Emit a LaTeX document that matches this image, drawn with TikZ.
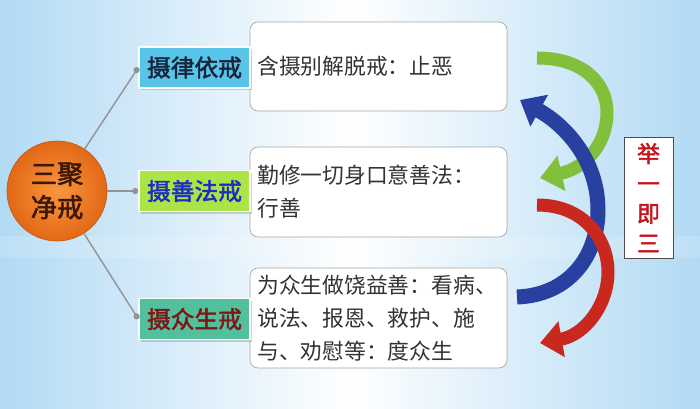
\documentclass[tikz,border=0pt]{standalone}
\usepackage{fontspec}
\newfontfamily\cjk{Noto Sans CJK SC}
\newfontfamily\cjkb[FakeBold=2]{Noto Sans CJK SC}
\usetikzlibrary{arrows.meta,shadows}
\definecolor{bgblue}{RGB}{178,218,244}
\definecolor{lyfill}{RGB}{88,196,232}
\definecolor{sffill}{RGB}{172,228,72}
\definecolor{zsfill}{RGB}{82,192,156}
\definecolor{lytext}{RGB}{22,36,60}
\definecolor{sftext}{RGB}{28,44,196}
\definecolor{zstext}{RGB}{128,22,22}
\definecolor{garrow}{RGB}{130,192,60}
\definecolor{barrow}{RGB}{40,64,160}
\definecolor{rarrow}{RGB}{200,40,30}
\begin{document}
\begin{tikzpicture}[x=0.02cm, y=-0.02cm, line join=round,
    lab/.style={minimum width=2.22cm, minimum height=0.82cm, draw=white, line width=0.8pt,
        drop shadow={shadow xshift=1.2pt, shadow yshift=-1.2pt, opacity=.35},
        font=\cjkb\fontsize{13.5}{16}\selectfont},
    txt/.style={draw=gray!70, fill=white, rounded corners=0.16cm, text width=4.85cm,
        inner xsep=0.145cm, align=left, text=black!80,
        font=\cjk\fontsize{12.4}{18.8}\selectfont},
    conn/.style={draw=gray!85, line width=0.8pt, -{Circle[length=3.5pt]}},
    band/.style={line width=0.26cm, line cap=butt, -{Triangle[width=0.7cm, length=0.44cm]}}]
    \useasboundingbox (0,0) rectangle (700,409);
    \fill[left color=bgblue, right color=bgblue, middle color=white] (0,0) rectangle (700,409);
    \fill[white, opacity=.15] (0,236) rectangle (700,258);
    % center
    \node[circle, minimum size=2cm, shading=radial, inner color={rgb,255:red,250;green,150;blue,64},
        outer color={rgb,255:red,226;green,104;blue,22}, draw={rgb,255:red,200;green,90;blue,20},
        align=center, text={rgb,255:red,60;green,24;blue,6},
        font=\cjkb\fontsize{15}{19}\selectfont] (sjjj) at (57,191) {三聚\\净戒};
    % text boxes
    \node[txt, minimum height=1.78cm] (lyt) at (378.5,66.5) {含摄别解脱戒：止恶};
    \node[txt, minimum height=1.8cm] (sft) at (378.5,192) {勤修一切身口意善法：\\行善};
    \node[txt, minimum height=2cm] (zst) at (378.5,318) {为众生做饶益善：看病、\\说法、报恩、救护、施\\与、劝慰等：度众生};
    % labels
    \node[lab, fill=lyfill, text=lytext] (ly) at (194.5,67.5) {摄律依戒};
    \node[lab, fill=sffill, text=sftext] (sf) at (194.5,191) {摄善法戒};
    \node[lab, fill=zsfill, text=zstext] (zs) at (194.5,319) {摄众生戒};
    \draw[conn] (sjjj) -- (ly.west);
    \draw[conn] (sjjj) -- (sf.west);
    \draw[conn] (sjjj) -- (zs.west);
    % right
    \node[draw=gray!60!black, fill=white, minimum width=0.98cm, minimum height=2.42cm,
        align=center, text={rgb,255:red,196;green,20;blue,28},
        font=\cjkb\fontsize{13}{17}\selectfont] (jyjs) at (648.5,197.5) {举\\一\\即\\三};
    \coordinate (g0) at (537,58);  \coordinate (g1) at (540,178);
    \coordinate (b0) at (517,297); \coordinate (b1) at (520,100);
    \coordinate (r0) at (537,205); \coordinate (r1) at (540,343);
    \draw[band, draw=garrow] (g0) .. controls (585,58) and (607,85) .. (607,112)
        .. controls (607,145) and (585,168) .. (g1);
    \draw[band, draw=barrow, line width=0.3cm] (b0) .. controls (570,295) and (598,255) .. (598,210)
        .. controls (598,160) and (565,125) .. (b1);
    \draw[band, draw=rarrow] (r0) .. controls (585,205) and (608,240) .. (608,272)
        .. controls (608,305) and (585,335) .. (r1);
\end{tikzpicture}
\end{document}
